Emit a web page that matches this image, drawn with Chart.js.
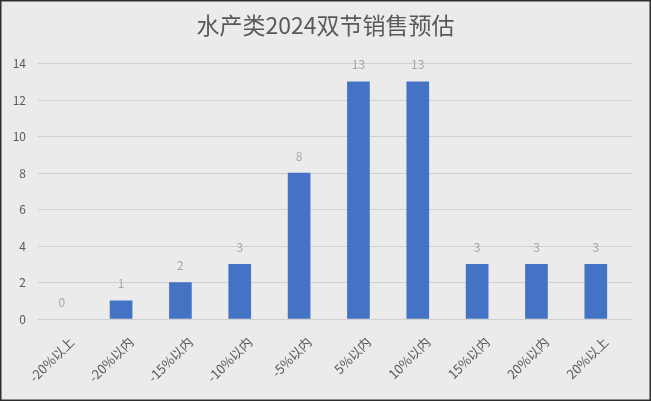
<!DOCTYPE html>
<html><head><meta charset="utf-8">
<script src="https://cdn.jsdelivr.net/npm/chart.js@4.4.0/dist/chart.umd.min.js"></script>
<style>
html,body{margin:0;padding:0;background:#ebebeb;overflow:hidden}
#wrap{position:relative;width:651px;height:401px}
</style></head>
<body><div id="wrap"><canvas id="c"></canvas></div>
<script>
const chartTitle = '水产类2024双节销售预估';
const categories = ['-20%以上','-20%以内','-15%以内','-10%以内','-5%以内','5%以内','10%以内','15%以内','20%以内','20%以上'];
const values = [0, 1, 2, 3, 8, 13, 13, 3, 3, 3];
const yMin = 0, yMax = 14, yStep = 2;

const FONT = "'Noto Sans CJK SC', 'Noto Sans', sans-serif";
const points = values.map((v, i) => ({x: i, y: v}));
const LABEL_SHIFT = 0.17;

const frame = {
  id: 'frame',
  beforeDraw(chart) {
    const c = chart.ctx;
    c.save();
    c.fillStyle = '#ebebeb';
    c.fillRect(0, 0, chart.width, chart.height);
    c.restore();
  },
  afterDraw(chart) {
    const c = chart.ctx;
    c.save();
    c.strokeStyle = '#2e2e2e';
    c.lineWidth = 1.5;
    c.strokeRect(0.75, 0.75, chart.width - 1.5, chart.height - 1.5);
    c.restore();
  }
};

const dataLabels = {
  id: 'dataLabels',
  afterDatasetsDraw(chart) {
    const c = chart.ctx;
    const meta = chart.getDatasetMeta(0);
    c.save();
    c.fillStyle = '#a6a6a6';
    c.font = '12px ' + FONT;
    c.textAlign = 'center';
    c.textBaseline = 'middle';
    meta.data.forEach((el, i) => {
      c.fillText(String(values[i]), el.x, el.y - 17);
    });
    c.restore();
  }
};

new Chart(document.getElementById('c'), {
  type: 'bar',
  data: {
    datasets: [{
      data: points,
      backgroundColor: values.map(v => v === 0 ? 'rgba(0,0,0,0)' : '#4472c4'),
      borderWidth: 0,
      barThickness: 22
    }]
  },
  plugins: [frame, dataLabels],
  options: {
    responsive: true,
    maintainAspectRatio: false,
    animation: false,
    devicePixelRatio: 1,
    layout: {padding: {left: 0, right: 0, top: 0, bottom: 0}},
    plugins: {
      legend: {display: false},
      tooltip: {enabled: false},
      title: {
        display: true,
        text: chartTitle,
        color: '#595959',
        font: {family: FONT, size: 23, weight: 'normal'},
        padding: {top: 11, bottom: 25}
      }
    },
    scales: {
      x: {
        type: 'linear',
        offset: false,
        min: -0.4,
        max: 9.61,
        grid: {display: false, drawTicks: false},
        border: {display: false},
        afterBuildTicks(scale) {
          scale.ticks = categories.map((_, i) => ({value: i + LABEL_SHIFT}));
        },
        afterFit(scale) { scale.height = 82; },
        ticks: {
          autoSkip: false,
          maxRotation: 45,
          minRotation: 45,
          color: '#595959',
          padding: 15,
          font: {family: FONT, size: 13},
          callback: (v) => {
            const k = Math.round(v - LABEL_SHIFT);
            return categories[k] !== undefined ? categories[k] : '';
          }
        }
      },
      y: {
        min: yMin,
        max: yMax,
        grid: {color: '#d0d0d0', lineWidth: 1, drawTicks: false},
        border: {display: false},
        afterFit(scale) { scale.width = 38; },
        ticks: {
          stepSize: yStep,
          color: '#595959',
          padding: 12,
          font: {family: FONT, size: 12}
        }
      },
      yRight: {
        position: 'right',
        display: true,
        grid: {display: false, drawTicks: false},
        border: {display: false},
        ticks: {display: false},
        afterFit(scale) { scale.width = 19; }
      }
    }
  }
});
</script>
</body></html>
